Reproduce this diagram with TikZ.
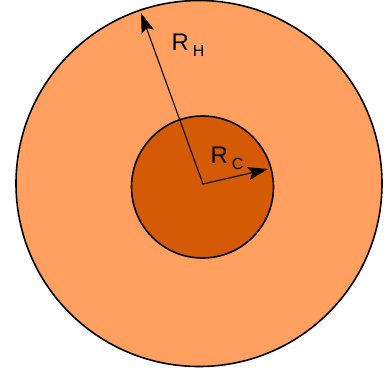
\documentclass[tikz,border=0pt]{standalone}
\usepackage{fontspec}
\setmainfont{Liberation Sans}
\usetikzlibrary{arrows.meta}
\definecolor{halo}{RGB}{255,160,96}
\definecolor{core}{RGB}{213,90,5}
\newcommand{\rlabel}[1]{R\kern4pt\raisebox{-6pt}{\fontsize{16}{16}\selectfont #1}}
\begin{document}
\begin{tikzpicture}[x=1pt,y=-1pt,line cap=round,
    radius/.style={line width=1.1pt,-{Stealth[length=20pt,width=13pt,inset=4pt]}},
    lbl/.style={font=\fontsize{24}{24}\selectfont,inner sep=0pt}]
  \useasboundingbox (0,0) rectangle (386,373);
  \fill[halo,draw=black,line width=1.6pt] (199,183.5) circle (183);
  \fill[core,draw=black,line width=1.6pt] (202.5,187) circle (71);
  \coordinate (O) at (203,184);
  \coordinate (H) at (141,13);
  \coordinate (C) at (268,169);
  \draw[radius] (O) -- (H);
  \draw[radius] (O) -- (C);
  \node[lbl] (rh) at (188,45) {\rlabel{H}};
  \node[lbl] (rc) at (227,158) {\rlabel{C}};
\end{tikzpicture}
\end{document}
